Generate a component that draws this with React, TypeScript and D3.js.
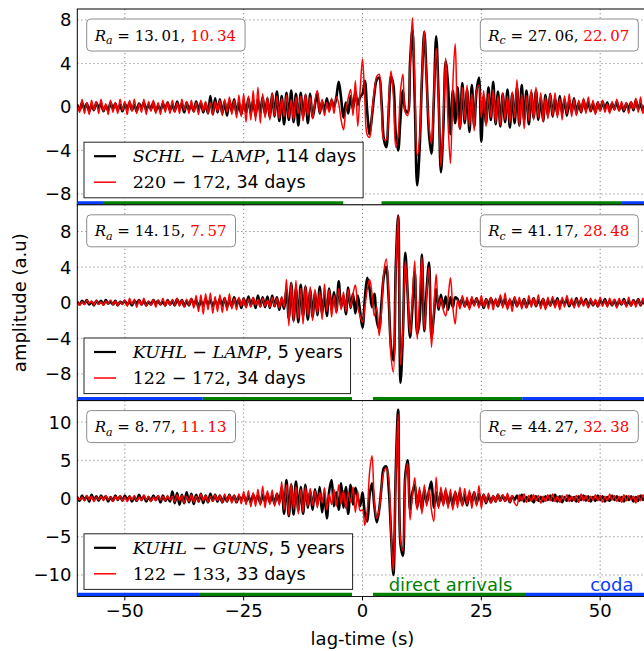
import { useLayoutEffect, useRef, useState } from 'react'
import * as d3 from 'd3'

// lag-time grid of the traces (s)
const lagStart = -60
const lagStep = 0.5

// SCHL-LAMP, 114 days (black) and 220-172, 34 days (red)
const topBlack = [
  0.2, -0.3, 0.4, -0.2, 0.3, -0.4, 0.2, -0.3, 0.4, -0.1, 0.3, -0.4, 0.1, -0.3, 0.4, -0.2, 0.3, -0.3, 0.2, -0.4,
  0.3, -0.2, 0.4, -0.3, 0.2, -0.4, 0.3, -0.1, 0.4, -0.3, 0.2, -0.2, 0.4, -0.4, 0.1, -0.3, 0.3, -0.2, 0.4, -0.3,
  0.2, -0.4, 0.5, -0.2, 0.3, -0.5, 0.4, -0.3, 0.2, -0.4, 0.5, -0.3, 0.4, -0.5, 0.3, -0.6, 1.0, -0.7, 0.8, -0.5,
  0.7, -0.6, 0.5, -0.8, 0.6, -0.4, 0.7, -0.6, 0.4, -0.7, 0.5, -0.5, 0.8, -0.6, 0.6, -0.8, 0.7, -0.5, 0.9, -0.7,
  0.8, -1.0, 1.2, -0.9, 1.4, -1.3, 1.0, -1.6, 1.3, -1.2, 1.5, -1.4, 1.2, -1.7, 1.3, -1.0, 1.1, -1.5, 1.2, -1.0,
  0.2, 1.3, -0.6, 0.5, -0.4, 0.8, -0.3, 0.6, 0.0, 0.9, 2.3, 0.8, -1.0, 0.4, -0.6, 1.0, -0.2, 1.4, 0.2, 0.9,
  1.2, 2.4, -0.5, -2.5, -0.8, 1.2, 2.5, 2.7, 0.5, -3.0, -3.7, -0.5, 2.8, 2.0, -2.5, -4.0, -1.0, 1.5, -0.3, -0.5,
  4.0, 7.1, 0.5, -7.2, -4.0, 2.5, 6.9, 2.5, -2.5, -4.3, 0.5, 6.5, 1.0, -6.0, -2.0, 4.2, 2.0, -2.5, 1.5, -1.5,
  1.8, -2.0, 2.2, -1.5, 1.6, -2.3, 2.0, -1.8, 1.5, 2.7, -3.2, 1.0, -1.5, 1.8, -1.2, 2.3, -1.6, 1.4, -1.8, 1.2,
  -1.4, 1.6, -1.9, 1.2, -1.5, 1.8, -1.7, 2.0, -1.2, 1.5, -1.6, 1.3, -1.0, 1.5, -1.2, 0.9, -1.3, 1.1, -0.8, 1.2,
  -0.9, 0.8, -0.7, 1.0, -0.6, 0.7, -0.8, 0.6, -0.5, 0.8, -0.6, 0.4, -0.5, 0.6, -0.3, 0.5, -0.4, 0.3, -0.5, 0.4,
  -0.3, 0.5, -0.2, 0.4, -0.4, 0.3, -0.2, 0.5, -0.3, 0.2, -0.4, 0.3, -0.2, 0.4, -0.3, 0.6, -0.2, 0.3, -0.4, 0.2,
  0.1,
]
const topRed = [
  0.3, -0.5, 0.7, -0.6, 0.4, -0.7, 0.6, -0.3, 0.5, -0.6, 0.7, -0.4, 0.3, -0.7, 0.6, -0.5, 0.4, -0.6, 0.7, -0.3,
  0.5, -0.7, 0.6, -0.4, 0.7, -0.6, 0.3, -0.5, 0.7, -0.7, 0.5, -0.4, 0.6, -0.6, 0.4, -0.7, 0.6, -0.5, 0.5, -0.6,
  0.6, -0.5, 0.4, -0.6, 0.7, -0.3, 0.5, -0.6, 0.6, -0.5, 0.4, -0.7, 0.6, -0.4, 0.5, -0.6, 0.4, -0.7, 0.5, -0.4,
  0.6, -0.8, 0.7, -0.5, 0.9, -0.7, 0.6, -1.0, 1.1, -0.9, 1.2, -1.4, 1.0, -1.2, 1.5, -1.3, 1.8, -1.5, 1.2, -1.0,
  0.9, -1.2, 1.3, -0.8, 1.0, -1.1, 0.8, -0.9, 1.1, -1.0, 0.7, -1.2, 0.9, -0.6, 1.0, -1.3, 1.2, -0.8, 0.9, -1.1,
  0.6, 1.5, -0.6, 0.7, -0.8, 0.4, -0.5, 0.8, -0.6, 0.9, 0.3, -1.2, -2.1, -0.2, 0.8, 1.6, -0.8, 2.4, -1.8, 1.5,
  4.4, 0.5, -2.6, -2.8, -0.5, 1.5, 2.8, 3.0, 0.0, -3.0, -3.0, 0.5, 3.3, 1.0, -3.7, -2.5, 1.5, 3.0, -0.5, -0.8,
  3.5, 8.2, 2.0, -4.5, -3.0, 3.0, 7.0, 2.0, -1.8, -3.4, 1.0, 5.4, 0.5, -5.5, -1.0, 4.5, -1.5, -5.2, 2.0, 5.8,
  -0.5, -2.0, 1.8, -1.2, 2.0, -1.8, 1.2, -2.2, 1.5, 2.0, -1.0, 1.5, -1.8, 1.2, -1.0, 1.6, -1.5, 1.0, -1.7, 1.3,
  -1.2, 1.0, -1.5, 1.4, -1.0, 2.5, -1.8, 1.2, -2.0, 1.0, -1.3, 1.6, -1.2, 1.8, -1.0, 1.3, -1.4, 0.9, -1.1, 1.2,
  -0.8, 1.3, -1.0, 0.8, -1.2, 1.0, -0.6, 1.2, -0.9, 0.7, -0.8, 0.6, -0.5, 0.8, -0.6, 0.9, -0.4, 0.6, -0.7, 0.5,
  -0.4, 0.6, -0.5, 0.3, -0.6, 0.5, -0.3, 0.7, -0.4, 0.5, -0.3, 0.4, -0.6, 0.5, -0.2, 0.8, -0.5, 0.9, -0.6, 0.3,
  -0.2,
]

// KUHL-LAMP, 5 years (black) and 122-172, 34 days (red)
const midBlack = [
  0.1, -0.2, 0.2, -0.1, 0.3, -0.2, 0.1, -0.3, 0.2, -0.1, 0.2, -0.2, 0.3, -0.1, 0.1, -0.2, 0.2, -0.3, 0.1, -0.1,
  0.2, -0.2, 0.1, -0.3, 0.2, -0.1, 0.3, -0.2, 0.2, -0.3, 0.1, -0.2, 0.3, -0.1, 0.2, -0.2, 0.1, -0.3, 0.3, -0.2,
  0.2, -0.3, 0.4, -0.2, 0.3, -0.4, 0.2, -0.3, 0.4, -0.2, 0.3, -0.5, 0.2, -0.3, 0.4, -0.2, 0.3, -0.4, 0.2, -0.3,
  0.4, -0.3, 0.5, -0.5, 0.3, -0.4, 0.6, -0.3, 0.4, -0.6, 0.5, -0.4, 0.7, -0.3, 0.5, -0.6, 0.8, -0.4, 0.6, -0.5,
  0.7, -0.6, 0.8, -0.4, 0.6, -0.8, 0.5, -0.7, 1.5, -1.8, 2.2, -2.0, 1.6, -2.2, 2.0, -1.5, 1.8, -1.9, 1.4, -1.6,
  1.2, -1.4, 1.8, -1.2, 0.9, -1.5, 1.6, -0.8, 1.2, -1.0, 2.4, -0.5, 0.8, -1.3, 1.7, -0.6, 1.0, -1.2, 0.8, -1.0,
  -2.8, 0.5, 2.8, 1.5, -0.5, 1.0, -2.0, -3.0, 0.0, 3.0, 4.0, 0.5, -5.0, -6.5, 4.0, 9.8, -9.0, -3.5, 5.6, 1.0,
  -3.9, -0.5, 3.5, -3.5, -2.0, 5.4, -3.2, 1.5, 4.5, -3.9, -1.5, 1.5, -0.8, 0.9, -0.6, 0.7, -0.8, 0.6, -0.5, 0.6,
  0.4, -0.3, 0.5, -0.4, 0.2, -0.5, 0.4, -0.2, 0.5, -0.3, 0.3, -0.6, 0.4, -0.3, 0.5, -0.2, 0.3, -0.4, 0.6, -0.3,
  0.4, -0.5, 0.3, -0.3, 0.5, -0.4, 0.2, -0.3, 0.4, -0.5, 0.3, -0.2, 0.5, -0.4, 0.3, -0.3, 0.4, -0.5, 0.2, -0.3,
  0.4, -0.3, 0.5, -0.4, 0.3, -0.2, 0.4, -0.4, 0.2, -0.3, 0.5, -0.3, 0.3, -0.2, 0.4, -0.4, 0.3, -0.3, 0.2, -0.4,
  0.3, -0.2, 0.4, -0.3, 0.2, -0.3, 0.3, -0.4, 0.2, -0.2, 0.4, -0.3, 0.2, -0.3, 0.3, -0.2, 0.4, -0.3, 0.2, -0.2,
  0.1,
]
const midRed = [
  0.2, -0.3, 0.1, -0.2, 0.3, -0.1, 0.2, -0.3, 0.3, -0.2, 0.1, -0.3, 0.2, -0.1, 0.3, -0.2, 0.2, -0.3, 0.1, -0.2,
  0.3, -0.4, 0.5, -0.2, 0.4, -0.5, 0.3, -0.3, 0.5, -0.4, 0.2, -0.3, 0.4, -0.5, 0.3, -0.2, 0.5, -0.4, 0.3, -0.3,
  0.4, -0.3, 0.5, -0.4, 0.3, -0.5, 0.4, -0.3, 0.5, -0.6, 0.8, -1.0, 0.9, -1.3, 1.0, -0.8, 1.1, -1.2, 0.7, -1.0,
  0.9, -1.1, 0.6, -0.9, 1.0, -0.7, 0.5, -0.8, 0.6, -0.4, 0.5, -0.6, 0.4, -0.5, 0.6, -0.3, 0.4, -0.5, 0.5, -0.4,
  0.3, -0.5, 0.6, -0.4, 0.5, -0.6, 0.7, -0.5, 2.6, -2.6, 2.3, -2.2, 2.5, -1.8, 1.6, -2.4, 2.0, -1.5, 1.8, -2.0,
  1.5, -1.2, 1.3, -1.9, 2.1, -1.0, 1.5, -1.6, 0.8, -1.2, 1.6, -0.8, 1.2, -1.0, 1.5, -0.5, 1.0, 2.0, -0.5, -1.5,
  -2.2, -0.5, 1.5, 2.6, 1.0, -1.5, -0.5, -3.7, -1.0, 3.5, 4.9, 1.0, -6.0, -7.8, 3.5, 9.8, -7.0, -3.0, 4.7, 1.0,
  -3.5, 0.5, 4.7, -4.1, 0.5, 5.1, -3.0, 1.0, 4.0, -5.0, -1.0, 3.2, -0.5, 0.5, -0.8, -1.5, 0.5, 2.8, -0.5, -2.4,
  0.3, -0.7, 0.8, -0.5, 0.6, -0.8, 0.7, -0.4, 0.5, -0.6, 0.8, -0.5, 0.4, -0.7, 0.6, -0.8, 0.5, -0.4, 0.9, -0.6,
  1.1, -0.8, 0.5, -1.0, 0.7, -0.5, 0.6, -0.7, 0.4, -0.6, 0.8, -0.5, 0.5, -0.4, 0.9, -0.7, 0.5, -0.8, 0.6, -0.4,
  0.7, -0.6, 0.4, -0.8, 0.6, -0.5, 0.8, -0.3, 0.5, -0.6, 0.4, -0.5, 0.6, -0.4, 0.3, -0.6, 0.5, -0.3, 0.4, -0.5,
  0.6, -0.4, 0.3, -0.5, 0.5, -0.3, 0.4, -0.6, 0.5, -0.2, 0.3, -0.5, 0.6, -0.4, 0.3, -0.5, 0.4, -0.3, 0.5, -0.4,
  0.2,
]

// KUHL-GUNS, 5 years (black) and 122-133, 33 days (red)
const botBlack = [
  0.2, -0.3, 0.4, -0.2, 0.3, -0.4, 0.5, -0.2, 0.3, -0.3, 0.4, -0.1, 0.3, -0.4, 0.2, -0.3, 0.4, -0.2, 0.3, -0.3,
  0.4, -0.2, 0.3, -0.4, 0.2, -0.3, 0.5, -0.2, 0.3, -0.4, 0.2, -0.3, 0.4, -0.2, 0.3, -0.5, 0.4, -0.3, 0.2, -0.4,
  0.9, -0.6, 0.7, -0.8, 0.5, -0.6, 0.8, -0.5, 0.6, -0.7, 0.5, -0.4, 0.6, -0.6, 0.4, -0.5, 0.6, -0.3, 0.5, -0.4,
  0.4, -0.5, 0.3, -0.4, 0.5, -0.3, 0.4, -0.5, 0.3, -0.2, 0.4, -0.4, 0.3, -0.5, 0.5, -0.3, 0.4, -0.6, 0.5, -0.4,
  0.6, -0.5, 0.4, -0.7, 0.6, -0.5, 1.5, -2.0, 2.4, -2.3, 1.8, -2.1, 2.2, -1.6, 1.5, -2.0, 1.8, -1.2, 1.0, -1.5,
  1.2, -0.8, 1.5, -1.8, 0.6, -2.6, 1.0, 2.4, -1.0, 0.8, -1.5, 2.0, -1.2, 1.5, -2.0, 1.8, -0.8, 1.4, 0.2, -1.0,
  0.8, -2.0, -3.0, 0.5, 2.0, -1.0, -3.1, -1.5, 1.5, 4.0, 4.2, 1.5, -4.5, -10.0, 3.5, 11.6, -6.0, -7.5, 3.0, 5.0,
  -1.5, 0.8, 1.8, -1.2, 1.0, -1.5, 1.2, -0.6, 1.0, 2.2, -1.2, 0.8, -1.0, 0.9, -0.7, 1.0, -0.8, 0.6, -1.0, 0.8,
  -0.6, 0.9, -0.8, 0.5, -0.9, 0.7, -0.5, 0.8, -0.7, 0.6, -0.4, 0.5, -0.6, 0.4, -0.5, 0.3, -0.4, 0.5, -0.3, 0.4,
  -0.3, 0.4, -0.5, 0.3, -0.2, 0.4, -0.3, 0.5, -0.4, 0.2, -0.3, 0.4, -0.5, 0.3, -0.3, 0.2, -0.4, 0.3, -0.2, 0.4,
  -0.3, 0.5, -0.4, 0.3, -0.5, 0.2, -0.3, 0.4, -0.3, 0.2, -0.4, 0.3, -0.2, 0.4, -0.3, 0.3, -0.4, 0.2, -0.3, 0.4,
  -0.2, 0.3, -0.4, 0.2, -0.3, 0.4, -0.2, 0.3, -0.3, 0.2, -0.4, 0.3, -0.2, 0.3, -0.4, 0.2, -0.3, 0.4, -0.2, 0.3,
  0.1,
]
const botRed = [
  0.3, -0.2, 0.2, -0.3, 0.4, -0.2, 0.3, -0.4, 0.2, -0.2, 0.3, -0.3, 0.4, -0.2, 0.2, -0.4, 0.3, -0.2, 0.4, -0.3,
  0.2, -0.4, 0.3, -0.2, 0.4, -0.3, 0.2, -0.3, 0.5, -0.2, 0.3, -0.4, 0.2, -0.3, 0.4, -0.2, 0.3, -0.3, 0.4, -0.2,
  0.3, -0.4, 0.5, -0.3, 0.4, -0.6, 0.3, -0.4, 0.5, -0.5, 0.3, -0.4, 0.6, -0.3, 0.4, -0.5, 0.3, -0.4, 0.5, -0.3,
  0.4, -0.5, 0.6, -0.4, 0.5, -0.6, 0.4, -0.5, 0.6, -0.7, 0.9, -0.8, 1.0, -1.1, 0.8, -1.0, 1.2, -0.9, 1.6, -1.2,
  1.0, -0.8, 1.1, -1.0, 0.7, -0.9, 2.2, -1.5, 1.8, -2.2, 2.0, -1.4, 1.6, -2.0, 1.2, -1.8, 1.5, -1.0, 1.3, -0.9,
  1.0, -1.2, 0.8, -0.6, 1.4, -1.5, 0.6, -0.8, 1.2, -1.0, 1.8, -0.7, 1.0, -1.3, 0.8, -0.5, 1.5, -1.8, 0.9, -1.6,
  -1.5, -3.5, -1.5, 3.5, 5.6, -0.5, -2.6, -1.5, 1.5, 3.5, 4.0, 2.6, -4.5, -9.5, 3.0, 11.0, -5.5, -6.8, 2.5, 4.6,
  -2.8, 0.5, 2.7, -1.5, 1.5, -2.0, 1.8, -1.0, 1.2, -1.5, -3.0, 2.8, -1.3, 1.5, -1.0, 1.4, -1.3, 1.2, -1.5, 1.0,
  -1.2, 1.5, -1.0, 1.3, -0.8, 1.1, -1.3, 0.9, -1.0, 1.7, -1.3, 0.6, -0.5, 0.7, -0.6, 0.4, -0.5, 0.6, -0.3, 0.5,
  -0.4, 0.7, -0.5, 0.4, -0.6, -0.9, 0.5, -0.3, 0.6, -0.5, 0.4, -0.4, 0.5, -0.3, 0.4, -0.6, 0.3, -0.4, 0.5, -0.3,
  0.6, -0.4, 0.3, -0.5, 0.4, -0.2, 0.5, -0.4, 0.3, -0.3, 0.4, -0.5, 0.6, -0.3, 0.4, -0.4, 0.3, -0.2, 0.5, -0.3,
  0.4, -0.5, 0.3, -0.3, 0.6, -0.2, 0.4, -0.4, 0.3, -0.5, 0.5, -0.3, 0.4, -0.2, 0.3, -0.6, 0.4, -0.3, 0.5, -0.4,
  0.2,
]

const blackTraces = [topBlack, midBlack, botBlack]
const redTraces = [topRed, midRed, botRed]

const yLimits = [9, 11, 12.8]
const yTicks = [
  [8, 4, 0, -4, -8],
  [8, 4, 0, -4, -8],
  [10, 5, 0, -5, -10],
]
const xTicks = [-50, -25, 0, 25, 50]

const pairNames = [
  ['SCHL', 'LAMP'],
  ['KUHL', 'LAMP'],
  ['KUHL', 'GUNS'],
]
const pairDurations = ['114 days', '5 years', '5 years']
const dayRanges = ['220 \u2212 172', '122 \u2212 172', '122 \u2212 133']
const dayDurations = ['34 days', '34 days', '33 days']

const raBlack = ['13.01', '14.15', '8.77']
const raRed = ['10.34', '7.57', '11.13']
const rcBlack = ['27.06', '41.17', '44.27']
const rcRed = ['22.07', '28.48', '32.38']

// window edges (s): end of the zero-lag gap and start of the coda
const gapEdges = [4.0, 2.2, 2.2]
const codaEdges = [54.6, 33.6, 34.2]

const W = 644
const H = 651
const left = 77.3
const right = 647.7
const top = 9
const panelH = 195.8

const sans = 'DejaVu Sans, sans-serif'
const serif = 'DejaVu Serif, serif'
const green = '#008000'
const blue = '#0a3cff'

const x = d3.scaleLinear().domain([-60, 60]).range([left, right])

const mathNum = (s: string) => s.replace('.', '.\u2009')

function AnnotBox({ edge, align, y, sub, black, red }: {
  edge: number; align: 'left' | 'right'; y: number; sub: string; black: string; red: string
}) {
  const ref = useRef<SVGTextElement>(null)
  const [tw, setTw] = useState(130)
  useLayoutEffect(() => {
    if (ref.current) setTw(ref.current.getBBox().width)
  }, [])
  const w = tw + 16
  const bx = align === 'left' ? edge : edge - w
  return (
    <g>
      <rect x={bx} y={y} width={w} height={32} rx={4} fill="white" stroke="#8c8c8c" strokeWidth={1} />
      <text ref={ref} x={bx + 8} y={y + 21.5} fontFamily={serif} fontSize={15}>
        <tspan fontStyle="italic">R</tspan>
        <tspan fontStyle="italic" fontSize={11} dy={3.5}>{sub}</tspan>
        <tspan dy={-3.5}>{' = ' + mathNum(black) + ', '}</tspan>
        <tspan fill="red">{mathNum(red)}</tspan>
      </text>
    </g>
  )
}

function Legend({ bottom, i }: { bottom: number; i: number }) {
  const r1 = useRef<SVGTextElement>(null)
  const r2 = useRef<SVGTextElement>(null)
  const [tw, setTw] = useState(220)
  useLayoutEffect(() => {
    const a = r1.current ? r1.current.getBBox().width : 0
    const b = r2.current ? r2.current.getBBox().width : 0
    setTw(Math.max(a, b))
  }, [])
  const h = 55.6
  const ty = bottom - h
  const bx = 84
  const tx = 132.7
  const w = tx - bx + tw + 7
  return (
    <g>
      <rect x={bx} y={ty} width={w} height={h} fill="white" stroke="#222" strokeWidth={1} />
      <line x1={94} x2={116} y1={ty + 14} y2={ty + 14} stroke="black" strokeWidth={2.2} />
      <line x1={94} x2={116} y1={ty + 40} y2={ty + 40} stroke="red" strokeWidth={1.5} />
      <text ref={r1} x={tx} y={ty + 20} fontSize={17.5}>
        <tspan fontFamily={serif} fontStyle="italic">{pairNames[i][0]}</tspan>
        <tspan fontFamily={serif}>{' \u2212 '}</tspan>
        <tspan fontFamily={serif} fontStyle="italic">{pairNames[i][1]}</tspan>
        <tspan fontFamily={sans}>{', ' + pairDurations[i]}</tspan>
      </text>
      <text ref={r2} x={tx} y={ty + 46} fontSize={17.5}>
        <tspan fontFamily={serif}>{dayRanges[i]}</tspan>
        <tspan fontFamily={sans}>{', ' + dayDurations[i]}</tspan>
      </text>
    </g>
  )
}

function Panel({ i }: { i: number }) {
  const y0 = top + i * panelH
  const y1 = y0 + panelH
  const lim = yLimits[i]
  const y = d3.scaleLinear().domain([-lim, lim]).range([y1, y0])
  const line = d3
    .line<number>()
    .x((_, k) => x(lagStart + k * lagStep))
    .y((v) => y(v))
    .curve(d3.curveCatmullRom)
  const clipId = `clip-${i}`
  const g = gapEdges[i]
  const c = codaEdges[i]
  const bars: [number, number, string][] = [
    [-60, -c, blue],
    [-c, -g, green],
    [-g, g, 'white'],
    [g, c, green],
    [c, 60, blue],
  ]
  return (
    <g>
      <defs>
        <clipPath id={clipId}>
          <rect x={left} y={y0} width={right - left} height={panelH} />
        </clipPath>
      </defs>
      <rect x={left} y={y0} width={right - left} height={panelH} fill="white" />
      {xTicks.map((t) => (
        <line key={`gx${t}`} x1={x(t)} x2={x(t)} y1={y0} y2={y1} stroke="#777" strokeWidth={0.9} strokeDasharray="1.2,2.8" />
      ))}
      {yTicks[i].map((t) => (
        <line key={`gy${t}`} x1={left} x2={right} y1={y(t)} y2={y(t)} stroke="#777" strokeWidth={0.9} strokeDasharray="1.2,2.8" />
      ))}
      <g clipPath={`url(#${clipId})`}>
        <path d={line(blackTraces[i]) ?? ''} fill="none" stroke="black" strokeWidth={2.6} strokeLinejoin="round" />
        <path d={line(redTraces[i]) ?? ''} fill="none" stroke="red" strokeWidth={1.5} strokeLinejoin="round" />
      </g>
      <rect x={left} y={y0} width={right - left} height={panelH} fill="none" stroke="black" strokeWidth={1} />
      {bars.map(([a, b, col], k) => (
        <line key={`bar${k}`} x1={x(a)} x2={x(b)} y1={y1 - 2} y2={y1 - 2} stroke={col} strokeWidth={3.2} />
      ))}
      {yTicks[i].map((t) => (
        <text key={`ty${t}`} x={71.5} y={y(t) + 6.5} textAnchor="end" fontFamily={sans} fontSize={18}>
          {t < 0 ? `\u2212${-t}` : `${t}`}
        </text>
      ))}
      <AnnotBox edge={86.7} align="left" y={y0 + 10} sub="a" black={raBlack[i]} red={raRed[i]} />
      <AnnotBox edge={638.3} align="right" y={y0 + 10} sub="c" black={rcBlack[i]} red={rcRed[i]} />
      <Legend bottom={y1 - 7} i={i} />
    </g>
  )
}

export default function App() {
  const yBottom = top + 3 * panelH
  const yLast = d3.scaleLinear().domain([-yLimits[2], yLimits[2]]).range([yBottom, yBottom - panelH])
  return (
    <svg width={W} height={H} style={{ position: 'absolute', left: 0, top: 0, background: 'white' }}>
      <rect width={W} height={H} fill="white" />
      {[0, 1, 2].map((i) => (
        <Panel key={i} i={i} />
      ))}
      {xTicks.map((t) => (
        <g key={`xt${t}`}>
          <line x1={x(t)} x2={x(t)} y1={yBottom} y2={yBottom + 4} stroke="black" strokeWidth={1} />
          <text x={x(t)} y={617.3} textAnchor="middle" fontFamily={sans} fontSize={18}>
            {t < 0 ? `\u2212${-t}` : `${t}`}
          </text>
        </g>
      ))}
      <text x={x(5.5)} y={yLast(-12.1)} fill={green} fontFamily={sans} fontSize={18}>direct arrivals</text>
      <text x={x(47.9)} y={yLast(-12.1)} fill={blue} fontFamily={sans} fontSize={18}>coda</text>
      <text x={x(0)} y={645} textAnchor="middle" fontFamily={sans} fontSize={18}>lag-time (s)</text>
      <text transform={`translate(26,${top + 1.5 * panelH}) rotate(-90)`} textAnchor="middle" fontFamily={sans} fontSize={18}>
        amplitude (a.u)
      </text>
    </svg>
  )
}
